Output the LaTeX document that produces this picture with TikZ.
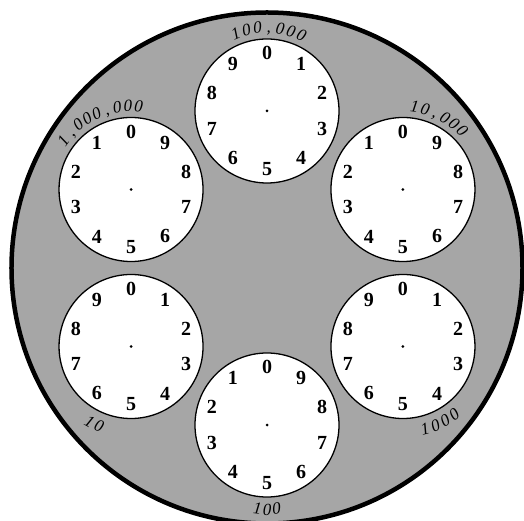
\documentclass[tikz,border=0pt]{standalone}
\usepackage{fontspec}
\setmainfont{Liberation Serif}
\usetikzlibrary{calc}

\newcommand\arclabel[6]{%
  \foreach \ch [count=\i from 0] in {#6}
    \node[scale label, rotate={#3+#4*\i+#5}] at ($(#1.center)+({#3+#4*\i}:#2)$) {\ch};
}

\begin{document}
\begin{tikzpicture}[
  x=1pt, y=1pt,
  face/.style={circle, draw, line width=1.3pt, fill=white, minimum size=144pt, inner sep=0pt},
  numeral/.style={font=\fontsize{20}{20}\selectfont\bfseries, inner sep=0pt},
  scale label/.style={font=\fontsize{17}{17}\selectfont\itshape, anchor=base, inner sep=0pt}
]
\useasboundingbox (-267,-253) rectangle (257,268);
\coordinate (hub) at (0,0);
\draw[line width=4.5pt, fill=black!35] (hub) circle[radius=255.5];
\foreach \ang/\nm/\dir in {90/d100000/1, 150/d1000000/-1, 30/d10000/-1,
                           210/d10/1, 330/d1000/1, 270/d100/-1}{
  \node[face] (\nm) at (\ang:157) {};
  \fill (\nm.center) circle[radius=1.5];
  \foreach \k in {0,...,9}
    \node[numeral] at ($(\nm.center)+(90-\dir*36*\k:58)$) {\k};
}
\arclabel{d100000}{78}{112}{-7.75}{-90}{1,0,0,{,},0,0,0}
\arclabel{d1000000}{78}{144}{-7.4}{-90}{1,{,},0,0,0,{,},0,0,0}
\arclabel{d10000}{78}{82}{-7.44}{-90}{1,0,{,},0,0,0}
\arclabel{d10}{91}{241}{7}{90}{1,0}
\arclabel{d1000}{91}{285}{7.3}{90}{1,0,0,0}
\arclabel{d100}{90}{263.5}{6.5}{90}{1,0,0}
\end{tikzpicture}
\end{document}
